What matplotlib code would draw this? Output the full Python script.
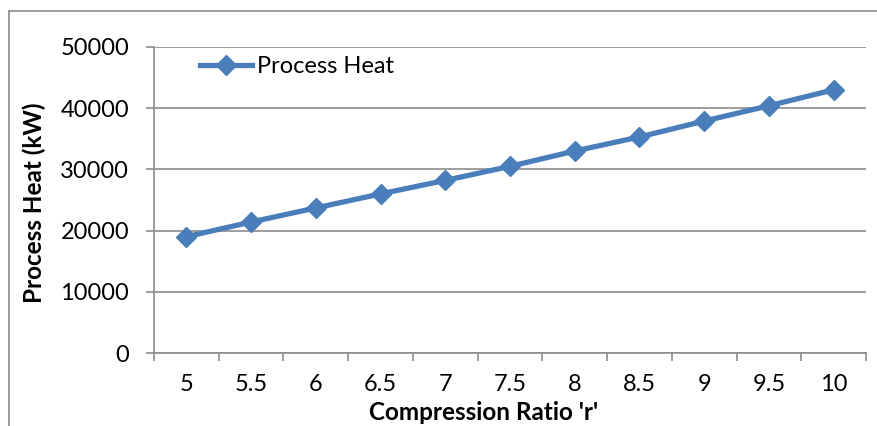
import matplotlib
matplotlib.use("Agg")
import matplotlib.pyplot as plt
from matplotlib.lines import Line2D
import numpy as np

# Compression ratio sweep and the resulting process heat
ratio_labels = ['5', '5.5', '6', '6.5', '7', '7.5', '8', '8.5', '9', '9.5', '10']
process_heat = [19000, 21400, 23700, 26000, 28200, 30500, 33000, 35300, 37900, 40400, 43000]
y_ticks = [0, 10000, 20000, 30000, 40000, 50000]

line_color = '#4A7EBB'
grid_color = '#8C8C8C'

plt.rcParams['font.family'] = ['Lato', 'DejaVu Sans']

fig = plt.figure(figsize=(8.77, 4.26), dpi=100)
ax = fig.add_axes([154 / 877, 73 / 426, 712 / 877, 306 / 426])

x = np.arange(len(ratio_labels))
ax.plot(x, process_heat, color=line_color, lw=3.8, marker='D', ms=10.5,
        label='Process Heat', zorder=3)

ax.set_xlim(-0.5, len(ratio_labels) - 0.5)
ax.set_ylim(0, 50000)
ax.set_yticks(y_ticks)
ax.set_yticklabels([str(v) for v in y_ticks])
ax.set_xticks(x)
ax.set_xticklabels(ratio_labels)
ax.set_xticks(np.arange(-0.5, len(ratio_labels)), minor=True)

ax.grid(axis='y', color=grid_color, lw=1.2, zorder=0)
for side in ['top', 'right']:
    ax.spines[side].set_visible(False)
for side in ['left', 'bottom']:
    ax.spines[side].set_color(grid_color)
    ax.spines[side].set_linewidth(1.2)

ax.tick_params(axis='y', direction='out', length=6, width=1.2, color=grid_color,
               pad=12, labelsize=17)
ax.tick_params(axis='x', which='major', length=0, pad=15, labelsize=17)
ax.tick_params(axis='x', which='minor', direction='out', length=6, width=1.2,
               color=grid_color)

ax.set_ylabel('Process Heat (kW)', fontsize=17.5, fontweight='bold')
ax.yaxis.set_label_coords(-0.152, 0.49)
fig.text(484 / 877, 1 - 412 / 426, "Compression Ratio 'r'", fontsize=17.5,
         fontweight='bold', ha='center', va='center')

ax.legend(loc='upper left', bbox_to_anchor=(0.052, 1.0), frameon=False,
          fontsize=17, handlelength=2.2, handletextpad=0.2, borderaxespad=0)

# thin frame around the chart area
fig.add_artist(Line2D([8.5 / 877, 8.5 / 877], [0, 1 - 10.5 / 426],
                      transform=fig.transFigure, color=grid_color, lw=1.2))
fig.add_artist(Line2D([8.5 / 877, 1], [1 - 10.5 / 426, 1 - 10.5 / 426],
                      transform=fig.transFigure, color=grid_color, lw=1.2))

fig.savefig('out.png', dpi=100, facecolor='white')
